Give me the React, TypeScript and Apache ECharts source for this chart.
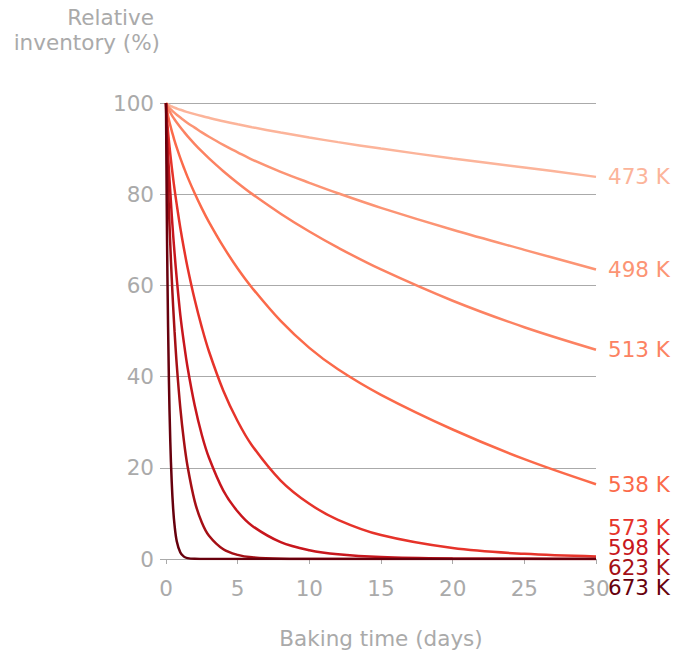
import React, { useEffect, useRef } from "react";
import * as echarts from "echarts";

const DAYS = [0, 0.05, 0.1, 0.2, 0.3, 0.4, 0.5, 0.6, 0.75, 1, 1.25, 1.5, 2, 2.5, 3, 4, 5, 6, 8, 10, 12, 15, 20, 25, 30];

const INV_473 = [100, 99.83, 99.71, 99.53, 99.37, 99.23, 99.09, 98.97, 98.79, 98.51, 98.26, 98.01, 97.56, 97.14, 96.75, 96.01, 95.33, 94.7, 93.52, 92.43, 91.42, 90.0, 87.84, 85.87, 83.8];
const INV_498 = [100, 99.7, 99.46, 99.07, 98.73, 98.42, 98.12, 97.84, 97.43, 96.8, 96.2, 95.63, 94.6, 93.55, 92.6, 90.83, 89.19, 87.6, 84.9, 82.5, 80.2, 77.0, 72.2, 67.8, 63.5];
const INV_513 = [100, 99.47, 99.09, 98.45, 97.87, 97.35, 96.85, 96.38, 95.71, 94.66, 93.68, 92.74, 91.0, 89.37, 87.85, 85.04, 82.47, 80.07, 75.72, 71.81, 68.27, 63.5, 56.64, 50.83, 45.9];
const INV_538 = [100, 98.8, 97.9, 96.4, 95.1, 93.9, 92.8, 91.7, 90.2, 87.9, 85.8, 83.8, 80.2, 76.9, 73.9, 68.5, 63.7, 59.5, 52.2, 46.3, 41.6, 36.0, 28.4, 21.9, 16.4];
const INV_573 = [100, 97.3, 95.3, 91.8, 88.8, 86.0, 83.4, 81.0, 77.7, 72.6, 68.1, 64.0, 56.9, 50.8, 45.5, 36.9, 30.2, 24.9, 17.2, 12.1, 8.6, 5.25, 2.4, 1.13, 0.55];
const INV_598 = [100, 95.5, 91.5, 85.5, 80.5, 75.5, 71.0, 67.0, 61.5, 53.5, 47.4, 42.1, 33.7, 27.2, 22.2, 15.0, 10.4, 7.3, 3.7, 1.94, 1.04, 0.43, 0.1, 0.03, 0.01];
const INV_623 = [100, 92.8, 87.0, 77.1, 68.8, 61.6, 55.3, 49.8, 42.6, 33.1, 25.9, 20.4, 12.7, 8.0, 5.1, 2.13, 0.91, 0.39, 0.08, 0.02, 0, 0, 0, 0, 0];
const INV_673 = [100, 78.1, 62.0, 39.7, 25.7, 16.8, 11.0, 7.3, 3.9, 1.41, 0.52, 0.19, 0.03, 0.005, 0, 0, 0, 0, 0, 0, 0, 0, 0, 0, 0];

const LABELS = ["473 K", "498 K", "513 K", "538 K", "573 K", "598 K", "623 K", "673 K"];
const VALUES = [INV_473, INV_498, INV_513, INV_538, INV_573, INV_598, INV_623, INV_673];
const COLORS = ["#fcb49a", "#fc9474", "#fc8262", "#fb6a4a", "#e6332a", "#c8161d", "#a50f15", "#67000d"];
const LABEL_SHIFT = [0, 0, 0, 0, -29, -11, 8, 28];

const X_TICKS = [0, 5, 10, 15, 20, 25, 30];
const Y_TICKS = [0, 20, 40, 60, 80, 100];

const FONT = "DejaVu Sans";
const GREY = "#aaaaaa";
const FS = 21.5;

export default function App() {
  const ref = useRef<HTMLDivElement>(null);
  useEffect(() => {
    if (!ref.current) return;
    const chart = echarts.init(ref.current, null, { renderer: "svg" });
    const series = VALUES.map((vals, i) => ({
      type: "line",
      name: LABELS[i],
      data: DAYS.map((d, j) => [d, vals[j]]),
      showSymbol: false,
      smooth: 0.35,
      lineStyle: { color: COLORS[i], width: 2.5 },
      itemStyle: { color: COLORS[i] },
      z: 2 + i,
      endLabel: {
        show: true,
        formatter: LABELS[i],
        color: COLORS[i],
        fontSize: FS,
        fontFamily: FONT,
        distance: 12,
        offset: [0, LABEL_SHIFT[i]],
      },
    }));
    chart.setOption({
      animation: false,
      grid: { left: 166, right: 92, top: 103, bottom: 92, containLabel: false },
      graphic: [
        {
          type: "text",
          style: {
            text: "Relative",
            x: 154,
            y: 5,
            textAlign: "right",
            fontSize: FS,
            lineHeight: 25,
            fontFamily: FONT,
            fill: GREY,
          },
        },
        {
          type: "text",
          style: {
            text: "inventory (%)",
            x: 160,
            y: 30,
            textAlign: "right",
            fontSize: FS,
            lineHeight: 25,
            fontFamily: FONT,
            fill: GREY,
          },
        },
      ],
      xAxis: {
        type: "value",
        min: X_TICKS[0],
        max: X_TICKS[X_TICKS.length - 1],
        interval: 5,
        offset: 9,
        name: "Baking time (days)",
        nameLocation: "middle",
        nameGap: 59,
        nameTextStyle: { color: GREY, fontSize: FS, fontFamily: FONT },
        axisLine: { show: false },
        axisTick: { show: true, length: 5, lineStyle: { color: GREY, width: 1 } },
        axisLabel: { color: GREY, fontSize: FS, fontFamily: FONT, margin: 9 },
        splitLine: { show: false },
      },
      yAxis: {
        type: "value",
        min: Y_TICKS[0],
        max: Y_TICKS[Y_TICKS.length - 1],
        interval: 20,
        axisLine: { show: false },
        axisTick: { show: true, length: 6, lineStyle: { color: GREY, width: 1 } },
        axisLabel: { color: GREY, fontSize: FS, fontFamily: FONT, margin: 12 },
        splitLine: { show: true, lineStyle: { color: GREY, width: 1 } },
      },
      series,
    });
    return () => chart.dispose();
  }, []);
  return <div ref={ref} style={{ width: 688, height: 654, position: "absolute", left: 0, top: 0 }} />;
}
